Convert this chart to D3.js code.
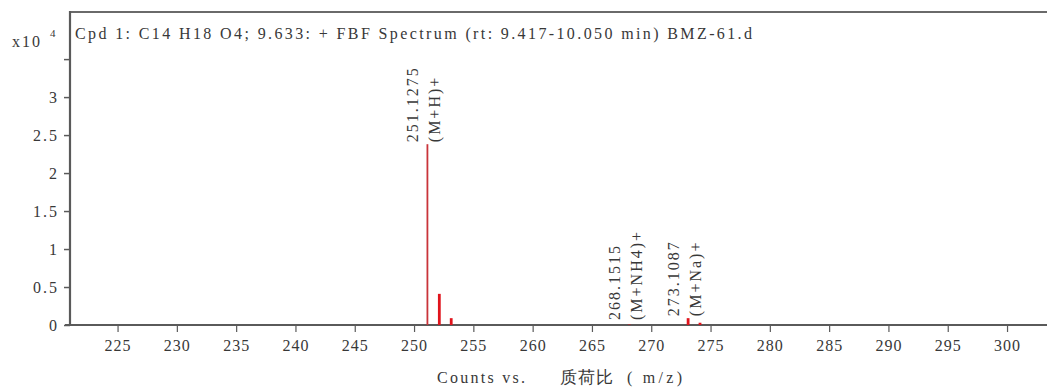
<!DOCTYPE html>
<html>
<head>
<meta charset="utf-8">
<script src="https://cdn.jsdelivr.net/npm/d3@7/dist/d3.min.js"></script>
<style>
  html, body { margin: 0; padding: 0; background: #fff; }
  svg { display: block; }
  text { font-family: "Liberation Serif", "DejaVu Serif", serif; fill: #383838; }
</style>
</head>
<body>
<svg id="chart" width="1047" height="387"></svg>
<script>
// Spectrum peaks (m/z and abundance in counts)
const peakMz = [251.1275, 252.1310, 253.1340, 268.1515, 273.1087, 274.1120];
const peakCounts = [23800, 4100, 900, 60, 900, 300];

// Annotated peaks: m/z text and adduct ion
const labelMz = [251.1275, 268.1515, 273.1087];
const labelText = ["251.1275", "268.1515", "273.1087"];
const labelIon = ["(M+H)+", "(M+NH4)+", "(M+Na)+"];

// Axis ticks
const xTicks = [225, 230, 235, 240, 245, 250, 255, 260, 265, 270, 275, 280, 285, 290, 295, 300];
const yTicks = [0, 5000, 10000, 15000, 20000, 25000, 30000, 35000];
const yTickLabels = ["0", "0.5", "1", "1.5", "2", "2.5", "3", ""];

const titleText = "Cpd 1: C14 H18 O4; 9.633: + FBF Spectrum (rt: 9.417-10.050 min) BMZ-61.d";

const svg = d3.select("#chart");
const plotLeft = 70, plotRight = 1047, plotTop = 12, plotBottom = 325;

const x = d3.scaleLinear().domain([220.99, 303.37]).range([plotLeft, plotRight]);
const y = d3.scaleLinear().domain([0, 41200]).range([plotBottom, plotTop]);

const axisColor = "#5a5a5a";
const fontSize = 16;

// Frame: top border
svg.append("line")
  .attr("x1", plotLeft).attr("x2", plotRight)
  .attr("y1", plotTop).attr("y2", plotTop)
  .attr("stroke", "#6a6a6a").attr("stroke-width", 2);

// Bottom axis
const xAxis = svg.append("g")
  .attr("transform", `translate(0,${plotBottom})`)
  .call(d3.axisBottom(x).tickValues(xTicks).tickSize(7).tickPadding(8).tickFormat(d3.format("d")));
xAxis.select(".domain").remove();
xAxis.selectAll(".tick line").attr("stroke", axisColor).attr("stroke-width", 1.2);
xAxis.selectAll(".tick text")
  .attr("font-size", fontSize).attr("letter-spacing", "1px")
  .attr("font-family", "Liberation Serif").attr("fill", "#383838");
svg.append("line")
  .attr("x1", plotLeft - 5).attr("x2", plotRight)
  .attr("y1", plotBottom).attr("y2", plotBottom)
  .attr("stroke", axisColor).attr("stroke-width", 2.2);

// Left axis
const yAxis = svg.append("g")
  .attr("transform", `translate(${plotLeft},0)`)
  .call(d3.axisLeft(y).tickValues(yTicks).tickSize(6).tickPadding(5)
    .tickFormat((d, i) => yTickLabels[i]));
yAxis.select(".domain").remove();
yAxis.selectAll(".tick line").attr("stroke", axisColor).attr("stroke-width", 1.5);
yAxis.selectAll(".tick text")
  .attr("font-size", fontSize).attr("letter-spacing", "2px")
  .attr("font-family", "Liberation Serif").attr("fill", "#383838");
svg.append("line")
  .attr("x1", plotLeft).attr("x2", plotLeft)
  .attr("y1", plotTop - 1).attr("y2", plotBottom + 1)
  .attr("stroke", axisColor).attr("stroke-width", 2.2);

// Exponent marker
svg.append("text").attr("x", 12).attr("y", 47).attr("font-size", fontSize)
  .attr("textLength", 28).attr("lengthAdjust", "spacing").text("x10");
svg.append("text").attr("x", 50).attr("y", 37).attr("font-size", 11).text("4");

// Title inside the plot frame
svg.append("text")
  .attr("x", 75).attr("y", 39)
  .attr("font-size", fontSize)
  .attr("textLength", 677).attr("lengthAdjust", "spacing")
  .text(titleText);

// Peaks
svg.append("g").selectAll("line")
  .data(peakMz.map((m, i) => ({ m, c: peakCounts[i], main: i === 0 })))
  .join("line")
  .attr("x1", d => x(d.m)).attr("x2", d => x(d.m))
  .attr("y1", y(0)).attr("y2", d => y(d.c))
  .attr("stroke", d => d.main ? "#c9343a" : "#e0141c")
  .attr("stroke-width", d => d.main ? 1.8 : 2.8);

// Peak annotations, rotated
const labelG = svg.append("g");
labelMz.forEach((m, i) => {
  const idx = peakMz.indexOf(m);
  const base = Math.min(y(peakCounts[idx]) - 2, 320);
  const px = x(m);
  labelG.append("text")
    .attr("transform", `translate(${px - 9},${base}) rotate(-90)`)
    .attr("font-size", fontSize).attr("letter-spacing", "2px")
    .text(labelText[i]);
  labelG.append("text")
    .attr("transform", `translate(${px + 13},${base}) rotate(-90)`)
    .attr("font-size", fontSize).attr("letter-spacing", "2px")
    .text(labelIon[i]);
});

// Axis title
const t = svg.append("g").attr("font-size", fontSize);
t.append("text").attr("x", 437).attr("y", 383)
  .attr("textLength", 88).attr("lengthAdjust", "spacing").text("Counts vs.");
t.append("text").attr("x", 560).attr("y", 383)
  .attr("font-family", "Noto Sans CJK SC").attr("font-size", 17)
  .attr("textLength", 53).attr("lengthAdjust", "spacing").text("质荷比");
t.append("text").attr("x", 627).attr("y", 383)
  .attr("textLength", 55).attr("lengthAdjust", "spacing").text("( m/z)");
</script>
</body>
</html>
